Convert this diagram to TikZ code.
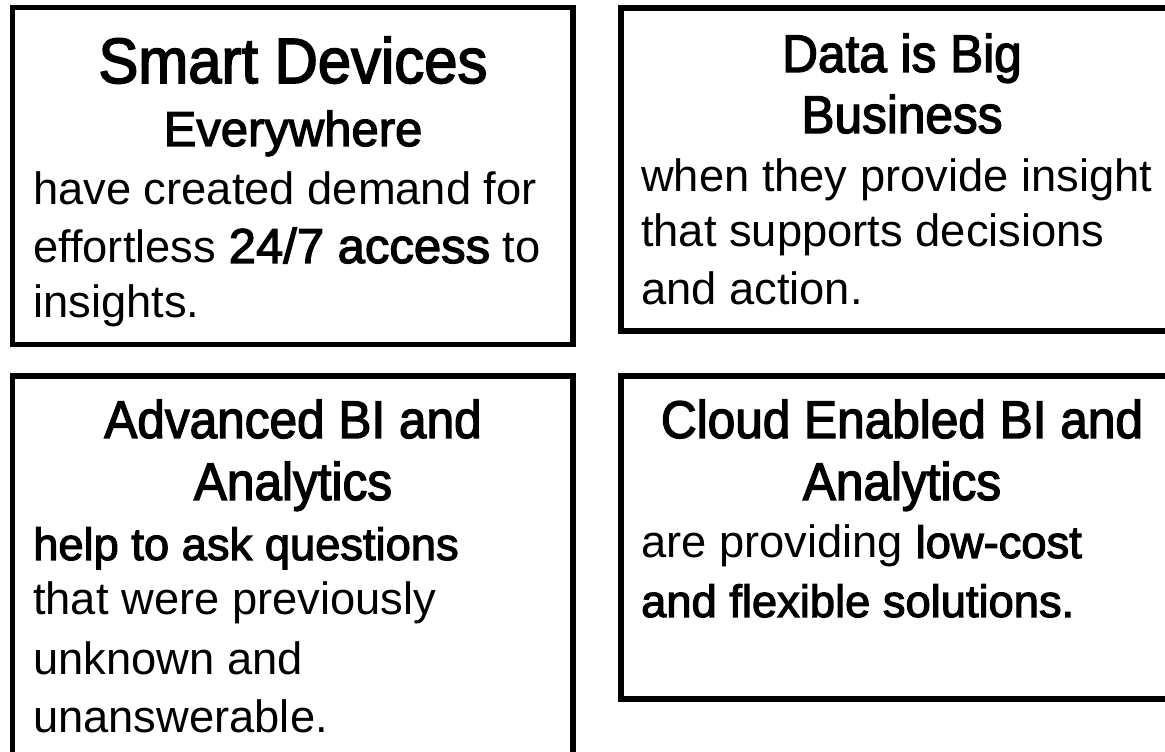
\documentclass[tikz,border=0pt]{standalone}
\usepackage{fontspec}
\setmainfont{Liberation Sans}
% medium-weight faces: emboldened regular, headings slightly condensed
\newfontfamily\headfont[FakeBold=2.5, FakeStretch=0.935]{Liberation Sans}
\newfontfamily\medfont[FakeBold=2.5]{Liberation Sans}
\newcommand{\hilite}[1]{{\medfont #1}}
\tikzset{
  panel/.style={draw=black, line width=5.5pt, minimum width=560.5pt, inner sep=0pt, outer sep=0pt},
  head/.style={anchor=base, inner sep=0pt, font=\headfont\fontsize{53}{60}\selectfont},
  body/.style={anchor=base west, inner sep=0pt, font=\fontsize{45.3}{56}\selectfont},
}
\begin{document}
\begin{tikzpicture}[x=1pt, y=1pt]
  \useasboundingbox (0,0) rectangle (1165,752);
  \clip (0,0) rectangle (1165,752);
  \fill[white] (0,0) rectangle (1165,752);

  % four panels (right and lower ones run past the edge)
  \node[panel, minimum height=337pt] (b1) at (292.75,576) {};
  \node[panel, minimum height=323pt] (b2) at (901.25,582.5) {};
  \node[panel, minimum height=436pt] (b3) at (292.75,158) {};
  \node[panel, minimum height=323pt] (b4) at (901.25,214.5) {};

  % panel 1
  \node[head, font=\headfont\fontsize{64}{70}\selectfont] (h1a) at (293,669) {Smart Devices};
  \node[head, font=\medfont\fontsize{49}{60}\selectfont] (h1b) at (293,606) {Everywhere};
  \node[body] (p1a) at (33,547) {have created demand for};
  \node[body] (p1b) at (33,489) {effortless \hilite{\fontsize{49}{60}\selectfont 24/7 access} to};
  \node[body] (p1c) at (33,434) {insights.};

  % panel 2
  \node[head] (h2a) at (902,680) {Data is Big};
  \node[head] (h2b) at (902,619) {Business};
  \node[body] (p2a) at (641,560) {when they provide insight};
  \node[body] (p2b) at (641,505) {that supports decisions};
  \node[body] (p2c) at (641,447) {and action.};

  % panel 3
  \node[head] (h3a) at (293,314) {Advanced BI and};
  \node[head] (h3b) at (293,252) {Analytics};
  \node[body] (p3a) at (33,192) {\hilite{help to ask questions}};
  \node[body] (p3b) at (33,137) {that were previously};
  \node[body] (p3c) at (33,77) {unknown and};
  \node[body] (p3d) at (33,19) {unanswerable.};

  % panel 4
  \node[head] (h4a) at (902,314) {Cloud Enabled BI and};
  \node[head] (h4b) at (902,252) {Analytics};
  \node[body] (p4a) at (641,194) {are providing \hilite{low-cost}};
  \node[body] (p4b) at (641,135) {\hilite{and flexible solutions.}};
\end{tikzpicture}
\end{document}
